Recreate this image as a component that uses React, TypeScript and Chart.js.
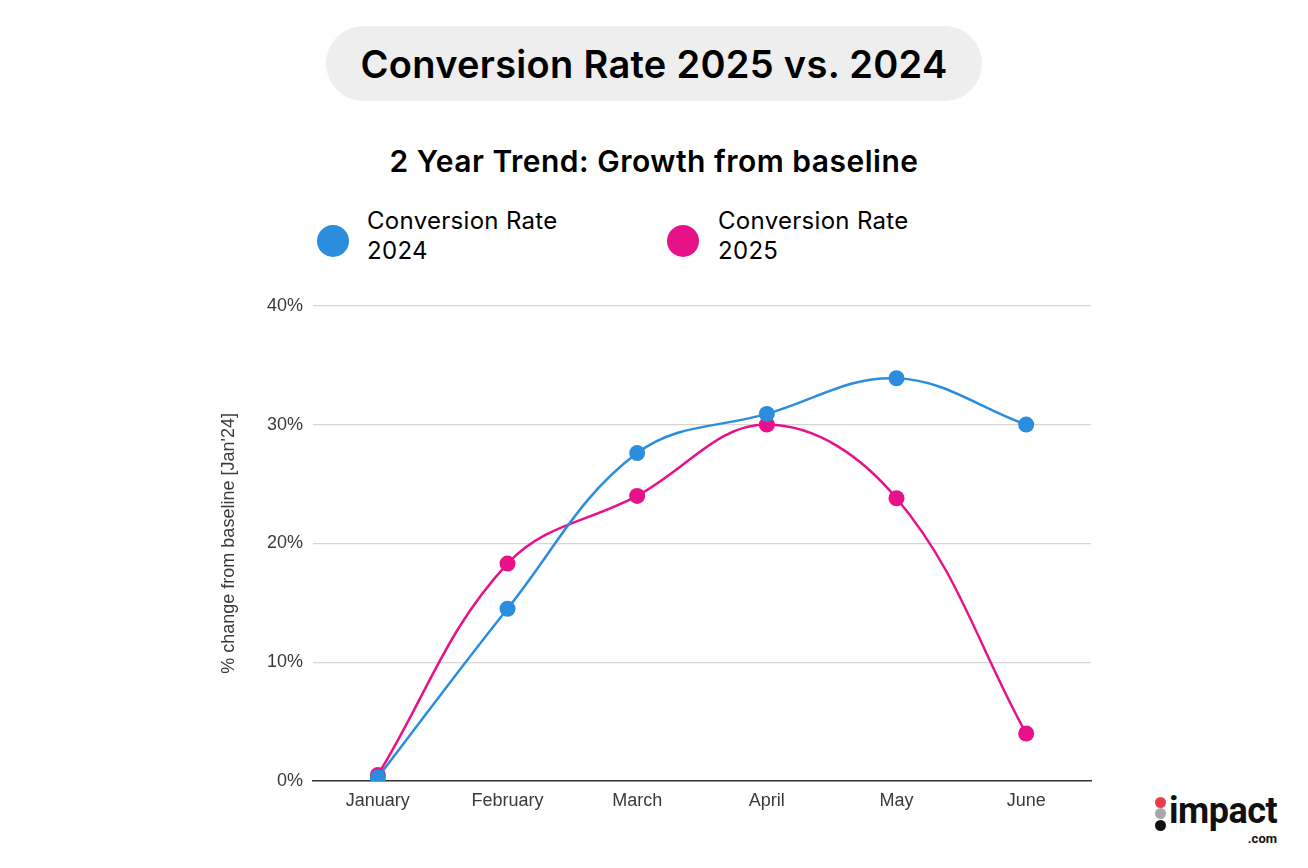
import React, { useEffect, useRef } from "react";
import { Chart, registerables } from "chart.js";

Chart.register(...registerables);

const months = ["January", "February", "March", "April", "May", "June"];
const rate2024 = [0.3, 14.5, 27.6, 30.9, 33.9, 30.0];
const rate2025 = [0.5, 18.3, 24.0, 30.0, 23.8, 4.0];
const seriesNames = ["Conversion Rate 2024", "Conversion Rate 2025"];
const seriesColors = ["#2b8ddd", "#e7128a"];
const yTicks = [0, 10, 20, 30, 40];
const titleText = "Conversion Rate 2025 vs. 2024";
const subtitleText = "2 Year Trend: Growth from baseline";
const yAxisTitle = "% change from baseline [Jan'24]";

const axisFont = "'Liberation Sans', Arial, sans-serif";

export default function App() {
  const canvasRef = useRef<HTMLCanvasElement | null>(null);

  useEffect(() => {
    if (!canvasRef.current) return;
    const chart = new Chart(canvasRef.current, {
      type: "line",
      data: {
        labels: months,
        datasets: [rate2024, rate2025].map((d, i) => ({
          label: seriesNames[i],
          data: d,
          borderColor: seriesColors[i],
          backgroundColor: seriesColors[i],
          pointBackgroundColor: seriesColors[i],
          pointBorderWidth: 0,
          pointRadius: 8,
          borderWidth: 2.5,
          tension: 0.38,
          fill: false,
        })),
      },
      options: {
        animation: false,
        responsive: false,
        maintainAspectRatio: false,
        layout: { padding: { top: 0, right: 9, left: 0, bottom: 0 } },
        plugins: { legend: { display: false }, tooltip: { enabled: false }, title: { display: false } },
        scales: {
          x: {
            offset: true,
            grid: { display: false, drawTicks: false },
            border: { display: true, color: "#333333", width: 1.5 },
            ticks: {
              padding: 9,
              color: "#3a3a3a",
              font: { family: axisFont, size: 18 },
            },
            afterFit: (s: any) => {
              s.height = 44;
            },
          },
          y: {
            min: 0,
            max: 40,
            afterBuildTicks: (s: any) => {
              s.ticks = yTicks.map((v) => ({ value: v }));
            },
            grid: { color: "#d6d6d6", lineWidth: 1.3, drawTicks: false },
            border: { display: false },
            ticks: {
              padding: 10,
              color: "#3a3a3a",
              font: { family: axisFont, size: 18 },
              callback: (v: any) => v + "%",
            },
            title: {
              display: true,
              text: yAxisTitle,
              color: "#3a3a3a",
              font: { family: axisFont, size: 18 },
              padding: { top: 18, bottom: 0 },
            },
            afterFit: (s: any) => {
              s.width = 113;
            },
          },
        },
      },
    });
    return () => chart.destroy();
  }, []);

  const legendPos = [
    { dot: 333, text: 367 },
    { dot: 683, text: 718 },
  ];

  return (
    <div
      style={{
        position: "fixed",
        left: 0,
        top: 0,
        width: 1308,
        height: 868,
        background: "#ffffff",
        fontFamily: "Inter, Roboto, 'Noto Sans', sans-serif",
        color: "#000",
        overflow: "hidden",
      }}
    >
      <div
        style={{
          position: "absolute",
          left: 326,
          top: 26,
          width: 656,
          height: 75,
          borderRadius: 38,
          background: "#eeeeee",
          display: "flex",
          alignItems: "center",
          justifyContent: "center",
          fontSize: 38,
          fontWeight: 600,
          letterSpacing: 0.3,
        }}
      >
        {titleText}
      </div>
      <div
        style={{
          position: "absolute",
          left: 0,
          width: 1308,
          top: 141,
          textAlign: "center",
          fontSize: 30,
          fontWeight: 600,
          letterSpacing: 0.5,
          lineHeight: "40px",
        }}
      >
        {subtitleText}
      </div>
      {seriesNames.map((name, i) => {
        const parts = name.split(" ");
        const last = parts.pop();
        return (
          <React.Fragment key={name}>
            <div
              style={{
                position: "absolute",
                left: legendPos[i].dot - 16,
                top: 241 - 16,
                width: 32,
                height: 32,
                borderRadius: 16,
                background: seriesColors[i],
              }}
            />
            <div
              style={{
                position: "absolute",
                left: legendPos[i].text,
                top: 206,
                fontSize: 24,
                lineHeight: "30px",
                fontWeight: 400,
                letterSpacing: 0.3,
              }}
            >
              <div>{parts.join(" ")}</div>
              <div>{last}</div>
            </div>
          </React.Fragment>
        );
      })}
      <canvas
        ref={canvasRef}
        width={900}
        height={540}
        style={{ position: "absolute", left: 200, top: 285, width: 900, height: 540 }}
      />
      <div style={{ position: "absolute", left: 1155, top: 797, width: 130, height: 55 }}>
        <div style={{ position: "absolute", left: 0, top: 0, width: 11, height: 11, borderRadius: 6, background: "#ee3b45" }} />
        <div style={{ position: "absolute", left: 0, top: 11, width: 11, height: 11, borderRadius: 6, background: "#a7a9ac" }} />
        <div style={{ position: "absolute", left: 0, top: 23, width: 11, height: 11, borderRadius: 6, background: "#111111" }} />
        <div
          style={{
            position: "absolute",
            left: 14,
            top: -6,
            fontSize: 36,
            fontWeight: 700,
            lineHeight: "40px",
            letterSpacing: -0.5,
            fontFamily: "Roboto, sans-serif",
            color: "#111",
          }}
        >
          impact
        </div>
        <div
          style={{
            position: "absolute",
            right: 8,
            top: 35,
            fontSize: 13,
            fontWeight: 700,
            lineHeight: "14px",
            fontFamily: "Roboto, sans-serif",
            color: "#111",
          }}
        >
          .com
        </div>
      </div>
    </div>
  );
}
